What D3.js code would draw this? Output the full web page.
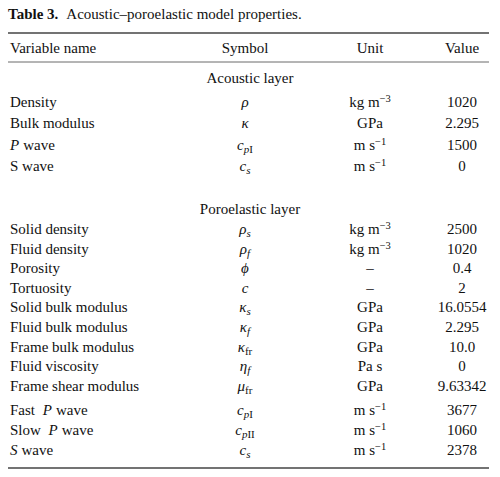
<!DOCTYPE html>
<html><head><meta charset="utf-8">
<script src="https://cdn.jsdelivr.net/npm/d3@7"></script>
<style>body{margin:0;background:#fff}text{font-family:"Liberation Serif","Times New Roman",serif;fill:#111}</style>
</head><body><svg id="c"></svg>
<script>
const names = ["Density","Bulk modulus","P wave","S wave",
  "Solid density","Fluid density","Porosity","Tortuosity","Solid bulk modulus","Fluid bulk modulus",
  "Frame bulk modulus","Fluid viscosity","Frame shear modulus","Fast P wave","Slow P wave","S wave"];
// symbol: [base, subscript italic, subscript roman]
const symbols = [["ρ","",""],["κ","",""],["c","p","I"],["c","s",""],
  ["ρ","s",""],["ρ","f",""],["ϕ","",""],["c","",""],["κ","s",""],["κ","f",""],
  ["κ","","fr"],["η","f",""],["μ","","fr"],["c","p","I"],["c","p","II"],["c","s",""]];
// unit: [text, superscript]
const units = [["kg m","−3"],["GPa",""],["m s","−1"],["m s","−1"],
  ["kg m","−3"],["kg m","−3"],["–",""],["–",""],["GPa",""],["GPa",""],
  ["GPa",""],["Pa s",""],["GPa",""],["m s","−1"],["m s","−1"],["m s","−1"]];
const values = ["1020","2.295","1500","0","2500","1020","0.4","2","16.0554","2.295","10.0","0","9.63342","3677","1060","2378"];
// which row names start with an italic wave letter
const italicWave = [false,false,true,false,false,false,false,false,false,false,false,false,false,true,true,true];
const sections = ["Acoustic layer","Poroelastic layer"];

const W=500,H=477;
const svg=d3.select("#c").attr("width",W).attr("height",H);
const x=d3.scaleOrdinal().domain(["name","sym","unit","val"]).range([10,245,370,462]);

const rowY = names.map((n,i)=> i<4 ? 107+i*21.3 : i<13 ? 234+(i-4)*19.6 : 415+(i-13)*20);

const fs=15;
svg.append("text").attr("x",8).attr("y",19).attr("font-size",fs)
  .call(t=>{t.append("tspan").attr("font-weight","bold").text("Table 3.");t.append("tspan").attr("dx",8).text("Acoustic–poroelastic model properties.")});
const rule=(y,w)=>svg.append("line").attr("x1",8).attr("x2",489).attr("y1",y).attr("y2",y).attr("stroke","#444").attr("stroke-width",w);
rule(33,1.4);rule(62,0.8);rule(468,1.4);

[["Variable name","name","start"],["Symbol","sym","middle"],["Unit","unit","middle"],["Value","val","middle"]]
  .forEach(([t,k,a])=>svg.append("text").attr("x",x(k)).attr("y",53).attr("text-anchor",a).attr("font-size",fs).text(t));
sections.forEach((s,i)=>svg.append("text").attr("x",x("sym")+5).attr("y",[83,214][i]).attr("text-anchor","middle").attr("font-size",fs).text(s));

const rows=svg.selectAll("g.row").data(names.map((n,i)=>({n,s:symbols[i],u:units[i],v:values[i],y:rowY[i],it:italicWave[i]})))
  .join("g").attr("class","row").attr("transform",d=>`translate(0,${d.y})`);
rows.append("text").attr("x",x("name")).attr("font-size",fs).each(function(d){
  const t=d3.select(this);
  if(d.it){
    const m=d.n.match(/^(.*?)([PS]) wave$/);
    if(m[1]) t.append("tspan").text(m[1]).attr("xml:space","preserve");
    t.append("tspan").attr("font-style","italic").attr("dx",m[1]?4:0).text(m[2]);
    t.append("tspan").attr("dx",4).text("wave");
  } else t.text(d.n);
});
rows.append("text").attr("x",x("sym")).attr("text-anchor","middle").attr("font-size",fs).each(function(d){
  const t=d3.select(this);
  t.append("tspan").attr("font-style","italic").text(d.s[0]);
  if(d.s[1]) t.append("tspan").attr("font-style","italic").attr("font-size",11).attr("dy",3).text(d.s[1]);
  if(d.s[2]) t.append("tspan").attr("font-size",11).attr("dy",d.s[1]?0:3).text(d.s[2]);
});
rows.append("text").attr("x",x("unit")).attr("text-anchor","middle").attr("font-size",fs).each(function(d){
  const t=d3.select(this);
  t.append("tspan").text(d.u[0]);
  if(d.u[1]) t.append("tspan").attr("font-size",10.5).attr("dy",-5).text(d.u[1]);
});
rows.append("text").attr("x",x("val")).attr("text-anchor","middle").attr("font-size",fs).text(d=>d.v);
</script></body></html>
